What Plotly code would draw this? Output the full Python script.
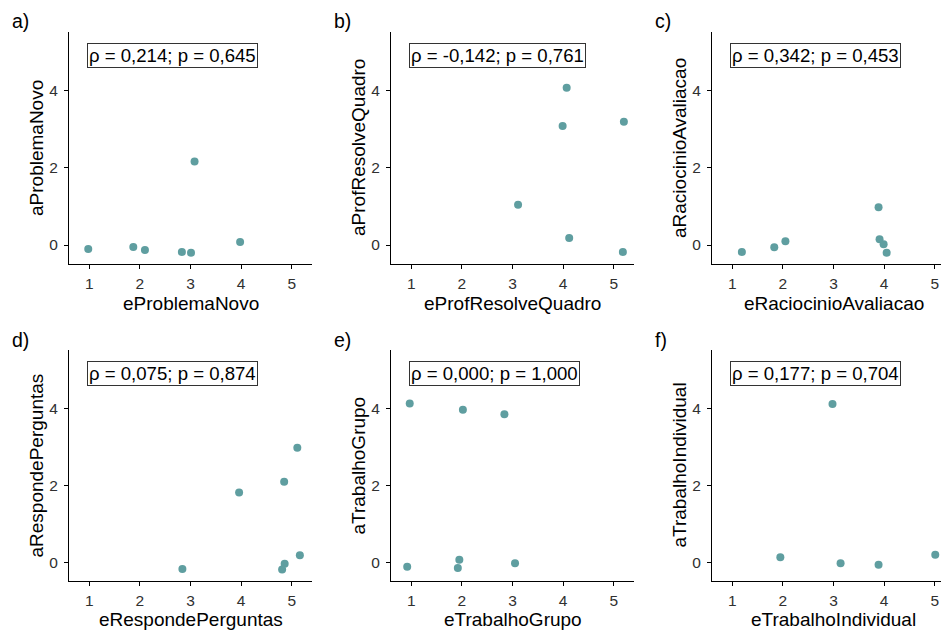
import plotly.graph_objects as go

# ---- data ----
panel_tags = ["a)", "b)", "c)", "d)", "e)", "f)"]
x_titles = ["eProblemaNovo", "eProfResolveQuadro", "eRaciocinioAvaliacao",
            "eRespondePerguntas", "eTrabalhoGrupo", "eTrabalhoIndividual"]
y_titles = ["aProblemaNovo", "aProfResolveQuadro", "aRaciocinioAvaliacao",
            "aRespondePerguntas", "aTrabalhoGrupo", "aTrabalhoIndividual"]
cor_labels = ["ρ = 0,214; p = 0,645", "ρ = -0,142; p = 0,761", "ρ = 0,342; p = 0,453",
              "ρ = 0,075; p = 0,874", "ρ = 0,000; p = 1,000", "ρ = 0,177; p = 0,704"]

x_a = [0.98, 1.87, 2.10, 2.83, 3.01, 3.08, 3.98]
y_a = [-0.10, -0.05, -0.13, -0.18, -0.20, 2.16, 0.08]

x_b = [4.07, 3.99, 5.20, 3.11, 4.12, 5.18]
y_b = [4.07, 3.08, 3.19, 1.04, 0.18, -0.18]

x_c = [1.19, 1.83, 2.05, 3.89, 3.91, 3.99, 4.05]
y_c = [-0.18, -0.06, 0.10, 0.98, 0.15, 0.02, -0.20]

x_d = [2.84, 3.96, 4.85, 5.11, 5.16, 4.86, 4.81]
y_d = [-0.18, 1.81, 2.09, 2.97, 0.18, -0.04, -0.19]

x_e = [0.97, 2.02, 2.84, 0.92, 1.95, 1.92, 3.05]
y_e = [4.12, 3.96, 3.84, -0.12, 0.06, -0.15, -0.03]

x_f = [2.98, 1.95, 3.14, 3.89, 5.01, 4.00]
y_f = [4.11, 0.13, -0.03, -0.07, 0.19, 5.12]

xs = [x_a, x_b, x_c, x_d, x_e, x_f]
ys = [y_a, y_b, y_c, y_d, y_e, y_f]
tick_vals = [1, 2, 3, 4, 5]
ytick_vals = [0, 2, 4]

# ---- layout geometry (pixels) ----
W, H = 941, 631
col_left = [69, 391, 712]
col_right = [312, 634, 941]
col_full_right = [312, 634, 955]
row_top = [32, 350]
row_bot = [264, 581]
px_per_unit = 243 / 4.8
X0 = 0.6
Y_RANGE = [-0.49, 5.51]

FONT = "Liberation Sans, Arial, Helvetica, sans-serif"
POINT_COLOR = "#5F9EA0"

fig = go.Figure()
annotations = []
layout = dict(width=W, height=H, margin=dict(l=0, r=0, t=0, b=0),
              paper_bgcolor="white", plot_bgcolor="white", showlegend=False,
              font=dict(family=FONT, color="black"))

for i in range(6):
    r, c = divmod(i, 3)
    k = "" if i == 0 else str(i + 1)
    xa, ya = "x" + k, "y" + k
    fig.add_trace(go.Scatter(x=xs[i], y=ys[i], mode="markers", xaxis=xa, yaxis=ya,
                             marker=dict(size=8, color=POINT_COLOR, line=dict(width=0)),
                             cliponaxis=False, hoverinfo="x+y"))
    l, rt = col_left[c], col_right[c]
    t, b = row_top[r], row_bot[r]
    x_hi = X0 + (rt - l) / px_per_unit
    axis_common = dict(showline=True, linecolor="black", linewidth=1.3, mirror=False,
                       ticks="outside", ticklen=4, tickwidth=1.2, tickcolor="black",
                       showgrid=False, zeroline=False,
                       tickfont=dict(family=FONT, size=15.5, color="#303030"))
    layout["xaxis" + k] = dict(axis_common, domain=[l / W, rt / W], range=[X0, x_hi],
                               tickvals=tick_vals, anchor=ya, ticklabelstandoff=1)
    layout["yaxis" + k] = dict(axis_common, domain=[1 - b / H, 1 - t / H], range=Y_RANGE,
                               tickvals=ytick_vals, anchor=xa, ticklabelstandoff=3)
    # correlation label box
    annotations.append(dict(x=0.95, y=4.89, xref=xa, yref=ya, text=cor_labels[i],
                            showarrow=False, xanchor="left", yanchor="middle",
                            font=dict(family=FONT, size=18.6, color="black"),
                            bgcolor="white", bordercolor="#333333", borderwidth=1,
                            borderpad=1))
    # axis titles
    if r == 0:
        xt_y, xt_anchor = 1 - (b + 39) / H, "middle"
    else:
        xt_y, xt_anchor = 0.0, "bottom"
    annotations.append(dict(x=(l + col_full_right[c]) / 2 / W, y=xt_y,
                            xref="paper", yref="paper", text=x_titles[i], showarrow=False,
                            xanchor="center", yanchor=xt_anchor, borderpad=0,
                            font=dict(family=FONT, size=19, color="black")))
    annotations.append(dict(x=(l - 33) / W, y=1 - (t + b) / 2 / H,
                            xref="paper", yref="paper", text=y_titles[i], showarrow=False,
                            textangle=-90, xanchor="center", yanchor="middle", borderpad=0,
                            font=dict(family=FONT, size=19, color="black")))
    # panel tag
    tag_x = [10, 332, 653][c]
    tag_y = [21, 340][r]
    annotations.append(dict(x=tag_x / W, y=1 - tag_y / H, xref="paper", yref="paper",
                            text=panel_tags[i], showarrow=False, xanchor="left",
                            yanchor="middle", font=dict(family=FONT, size=19.5, color="black")))

layout["annotations"] = annotations
fig.update_layout(**layout)
fig.write_html("out.html")
